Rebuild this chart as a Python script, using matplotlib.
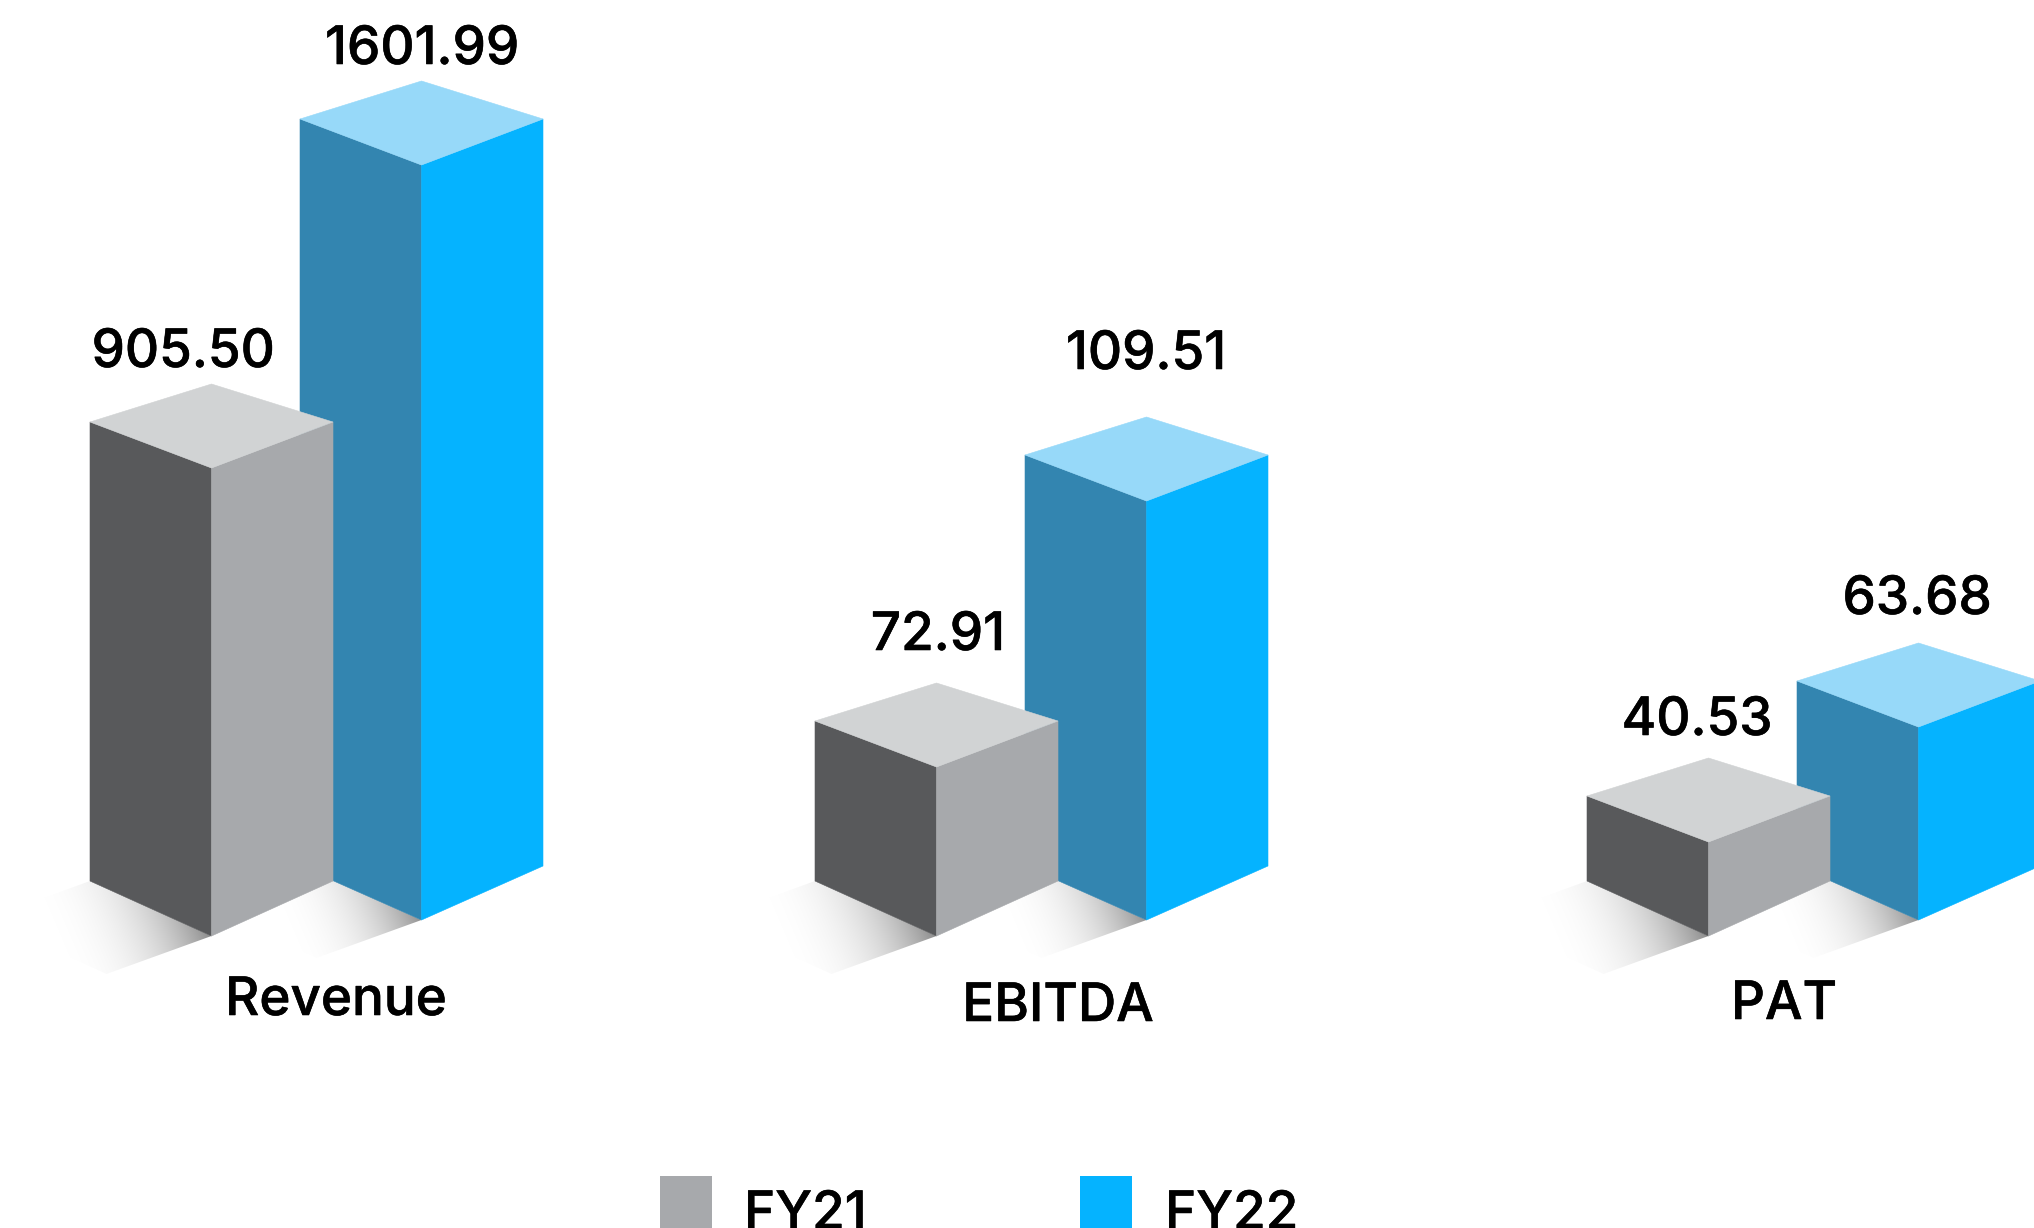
import numpy as np
import matplotlib
matplotlib.use("Agg")
import matplotlib.pyplot as plt
import matplotlib.patheffects as pe
from matplotlib.patches import Polygon, Rectangle

plt.rcParams['font.family'] = ['Inter', 'DejaVu Sans']

categories = ['Revenue', 'EBITDA', 'PAT']
series_names = ['FY21', 'FY22']
fy21_values = ['905.50', '72.91', '40.53']
fy22_values = ['1601.99', '109.51', '63.68']

# the bars are illustrative, not to scale, so drawn heights are read off the picture
fy21_heights = [468, 169, 94]
fy22_heights = [755, 419, 193]

# layout, in pixels of the 2034x1228 canvas
group_x = [90, 815, 1587]
group_x22 = [300, 1025, 1797]
half_w = 121.5
label_x = [336, 1058, 1784]
label_y = [1015, 1021, 1019]
fy21_label_x = [183, 938, 1697]
fy21_label_y = [367, 650, 735]
fy22_label_x = [422, 1146, 1917]
fy22_label_y = [64, 369, 614]
font_px = 38.5

fy21_colors = ['#58595B', '#A7A9AC', '#D1D3D4']
fy22_colors = ['#3385B0', '#05B3FF', '#97D9F9']

fig = plt.figure(figsize=(20.34, 12.28), dpi=100, facecolor='white')
ax = fig.add_axes([0, 0, 1, 1])


def draw_shadow(x, side_y, front_y, reach, strength):
    # soft floor shadow running down-left from the bar's left bottom edge
    cx, cy = x + half_w, front_y
    dx, dy = -105, 38
    pts = [(x, side_y), (cx, cy), (cx + dx, cy + dy), (x + dx, side_y + dy)]
    xs = np.arange(x + dx - 2, cx + 2)
    ys = np.arange(side_y - 2, cy + dy + 2)
    gx, gy = np.meshgrid(xs, ys)
    t = ((gx - cx) * -0.92 + (gy - cy) * 0.39) / reach
    t = np.clip(t, 0, 1)
    rgba = np.zeros(gx.shape + (4,))
    rgba[..., 3] = strength * (1 - t) ** 2.8
    im = ax.imshow(rgba, extent=(xs[0], xs[-1], ys[-1], ys[0]), aspect='auto',
                   interpolation='bilinear', zorder=1)
    clip = Polygon(pts, closed=True, transform=ax.transData)
    im.set_clip_path(clip)


def draw_box(x, height, front_y, side_y, colors, z):
    mid = x + half_w
    right = x + 2 * half_w
    front_top = front_y - height
    side_top = front_top - 46
    back_top = side_top - 38
    faces = [
        [(x, side_top), (mid, front_top), (mid, front_y), (x, side_y)],
        [(mid, front_top), (right, side_top), (right, side_y), (mid, front_y)],
        [(x, side_top), (mid, back_top), (right, side_top), (mid, front_top)],
    ]
    for pts, col in zip(faces, colors):
        ax.add_patch(Polygon(pts, closed=True, facecolor=col, edgecolor=col,
                             linewidth=0.4, zorder=z))


for i in range(len(categories)):
    draw_shadow(group_x22[i], 866, 920, 150, 0.42)
    draw_box(group_x22[i], fy22_heights[i], 920, 866, fy22_colors, 2)
    draw_shadow(group_x[i], 881, 936, 170, 0.45)
    draw_box(group_x[i], fy21_heights[i], 936, 881, fy21_colors, 3)

fs = font_px / 0.727 * 72 / 100
# Inter medium is a little lighter than the original lettering
heavier = [pe.withStroke(linewidth=0.4, foreground='black')]
for i, name in enumerate(categories):
    ax.text(label_x[i], label_y[i], name, ha='center', va='baseline', fontsize=fs,
            fontweight='medium', color='black', zorder=5, path_effects=heavier)
    ax.text(fy21_label_x[i], fy21_label_y[i], fy21_values[i], ha='center', va='baseline', fontsize=fs,
            fontweight='medium', color='black', zorder=5, path_effects=heavier)
    ax.text(fy22_label_x[i], fy22_label_y[i], fy22_values[i], ha='center', va='baseline', fontsize=fs,
            fontweight='medium', color='black', zorder=5, path_effects=heavier)

# legend sits on the bottom edge and runs off the canvas
ax.add_patch(Rectangle((660, 1176), 52, 60, facecolor=fy21_colors[1], edgecolor='none'))
ax.add_patch(Rectangle((1080, 1176), 52, 60, facecolor=fy22_colors[1], edgecolor='none'))
ax.text(744, 1229, series_names[0], ha='left', va='baseline', fontsize=fs,
        fontweight='medium', path_effects=heavier)
ax.text(1165, 1229, series_names[1], ha='left', va='baseline', fontsize=fs,
        fontweight='medium', path_effects=heavier)

ax.set_xlim(0, 2034)
ax.set_ylim(1228, 0)
ax.axis('off')

fig.savefig('out.png', dpi=100, facecolor='white')
